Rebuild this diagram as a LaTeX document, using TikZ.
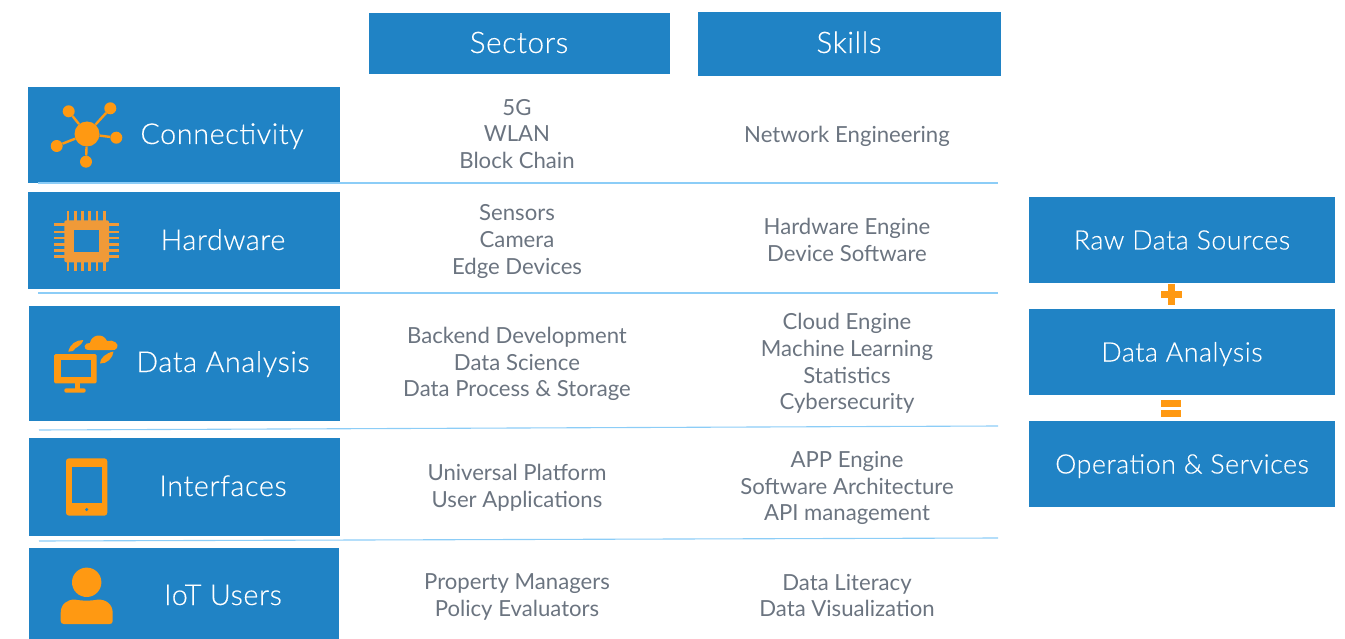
\documentclass[tikz,border=0pt]{standalone}
\usepackage{fontspec}
\setmainfont{Lato}
\newfontfamily\boxfont{Lato Light}[LetterSpace=2,FakeBold=0.25]
\usepackage{xcolor}
\definecolor{boxblue}{HTML}{2083C5}
\definecolor{iconorange}{HTML}{FF9912}
\definecolor{chiporange}{HTML}{F09A38}
\definecolor{rulesky}{HTML}{8CCDF7}
\definecolor{bodygrey}{HTML}{6B7480}
\tikzset{
    bluebox/.style = {fill=boxblue, inner sep=0pt},
    boxlabel/.style = {white, inner sep=0pt, text height=20pt, text depth=0pt, font=\boxfont\fontsize{28.8}{32}\selectfont},
    headlabel/.style = {boxlabel, font=\boxfont\fontsize{29.7}{32}\selectfont},
    sidelabel/.style = {boxlabel, font=\boxfont\fontsize{26.8}{32}\selectfont},
    cell/.style = {bodygrey, inner sep=0pt, align=center, font=\fontsize{22.15}{26.6}\selectfont},
    sepline/.style = {rulesky, line width=1.1pt},
    leaf/.style = {circle, fill=iconorange, inner sep=0pt, minimum size=12pt},
    hub/.style = {circle, fill=iconorange, inner sep=0pt, minimum size=25pt},
    spoke/.style = {iconorange, line width=2.4pt},
    pin/.style = {chiporange, line width=2.8pt}
}
\begin{document}
\begin{tikzpicture}[x=1pt,y=-1pt]
      \useasboundingbox (0,0) rectangle (1345,639);

      \node[bluebox, minimum width=301pt, minimum height=61pt] (sectors) at (519.5,43.5) {};
      \node[bluebox, minimum width=303pt, minimum height=64pt] (skills) at (849.5,44) {};
      \node[headlabel] (sectorsLabel) at (519,43) {Sectors};
      \node[headlabel] (skillsLabel) at (849,43) {Skills};

      \node[bluebox, minimum width=312pt, minimum height=96pt] (connectivity) at (184,135) {};
      \node[bluebox, minimum width=312pt, minimum height=97pt] (hardware) at (184,240.5) {};
      \node[bluebox, minimum width=311pt, minimum height=115pt] (analysis) at (184.5,363.5) {};
      \node[bluebox, minimum width=311pt, minimum height=98pt] (interfaces) at (184.5,487) {};
      \node[bluebox, minimum width=310pt, minimum height=91pt] (users) at (184,593.5) {};

      \node[boxlabel] (connectivityLabel) at (222,134) {Connectivity};
      \node[boxlabel] (hardwareLabel) at (223,240) {Hardware};
      \node[boxlabel] (analysisLabel) at (223,362) {Data Analysis};
      \node[boxlabel] (interfacesLabel) at (223,486) {Interfaces};
      \node[boxlabel] (usersLabel) at (223,595) {IoT Users};

      \node[cell] (sectorsA) at (517,134) {5G\\WLAN\\Block Chain};
      \node[cell] (sectorsB) at (517,241.5) {Sensors\\Camera\\Edge Devices};
      \node[cell] (sectorsC) at (517,364) {Backend Development\\Data Science\\Data Process \& Storage};
      \node[cell] (sectorsD) at (517,487.5) {Universal Platform\\User Applications};
      \node[cell] (sectorsE) at (517,597) {Property Managers\\Policy Evaluators};

      \node[cell] (skillsA) at (847,136) {Network Engineering};
      \node[cell] (skillsB) at (847,240) {Hardware Engine\\Device Software};
      \node[cell] (skillsC) at (847,363.5) {Cloud Engine\\Machine Learning\\Statistics\\Cybersecurity};
      \node[cell] (skillsD) at (847,488) {APP Engine\\Software Architecture\\API management};
      \node[cell] (skillsE) at (847,595.5) {Data Literacy\\Data Visualization};

      \coordinate (ruleAl) at (38,183);
      \coordinate (ruleAr) at (998,183);
      \coordinate (ruleBl) at (38,293);
      \coordinate (ruleBr) at (998,293);
      \coordinate (ruleCl) at (39,430);
      \coordinate (ruleCr) at (998,426);
      \coordinate (ruleDl) at (39,541);
      \coordinate (ruleDr) at (998,538);
      \path[sepline] (ruleAl) edge (ruleAr);
      \path[sepline] (ruleBl) edge (ruleBr);
      \path[sepline] (ruleCl) edge (ruleCr);
      \path[sepline] (ruleDl) edge (ruleDr);

      \node[bluebox, minimum width=306pt, minimum height=86pt] (raw) at (1182,240) {};
      \node[bluebox, minimum width=306pt, minimum height=86pt] (data) at (1182,352) {};
      \node[bluebox, minimum width=306pt, minimum height=86pt] (operation) at (1182,464) {};
      \node[sidelabel] (rawLabel) at (1182,239.5) {Raw Data Sources};
      \node[sidelabel] (dataLabel) at (1182,351.5) {Data Analysis};
      \node[sidelabel] (operationLabel) at (1182,463.5) {Operation \& Services};

      \fill[iconorange] (1160.5,291.5) rectangle (1181.5,298.5);
      \fill[iconorange] (1167.5,284.5) rectangle (1174.5,305.5);
      \fill[iconorange] (1161,400) rectangle (1181,407);
      \fill[iconorange] (1161,410) rectangle (1181,417);

      \node[hub] (netHub) at (87,134) {};
      \node[leaf] (netA) at (68.7,111.3) {};
      \node[leaf] (netB) at (110.3,108.3) {};
      \node[leaf] (netC) at (116.3,137.7) {};
      \node[leaf] (netD) at (86,161.7) {};
      \node[leaf] (netE) at (56.7,146) {};
      \path[spoke] (netHub) edge (netA);
      \path[spoke] (netHub) edge (netB);
      \path[spoke] (netHub) edge (netC);
      \path[spoke] (netHub) edge (netD);
      \path[spoke] (netHub) edge (netE);

      \foreach \px in {68,75.3,82.7,89.7,97,104.3}
        \draw[pin] (\px,211.3) -- (\px,271.3);
      \foreach \py in {224.7,232,238,244.7,250.3,256.3}
        \draw[pin] (54,\py) -- (119,\py);
      \fill[chiporange, rounded corners=2pt] (64.3,220.3) rectangle (109,262.3);
      \fill[boxblue] (74.3,230.3) rectangle (99,252.3);

      \fill[iconorange, rounded corners=1.5pt] (54,354) rectangle (96.7,383.3);
      \fill[boxblue] (60.7,360) rectangle (90.7,377.3);
      \fill[iconorange] (75,383) rectangle (80.3,389);
      \fill[iconorange, rounded corners=2pt] (64.3,388.3) rectangle (85.7,392.7);
      \fill[iconorange] (89,350) .. controls (82,350) and (84,342) .. (90,343)
        .. controls (91,335) and (103,332) .. (107,341)
        .. controls (113,339) and (120,344) .. (117,348)
        .. controls (116,350) and (114,350) .. (112,350) -- cycle;
      \fill[iconorange] (68.3,351.7) .. controls (70,344) and (76,340) .. (83.3,340)
        .. controls (81,347) and (75,347) .. (73,351) -- cycle;
      \fill[iconorange] (100,363.5) .. controls (100,358) and (106,353) .. (113.5,351.5)
        .. controls (113,358) and (107,364) .. (100,363.5) -- cycle;

      \fill[iconorange, rounded corners=3pt] (66,458.3) rectangle (107.3,515.7);
      \fill[boxblue] (71.7,466.7) rectangle (101.7,503.3);
      \fill[boxblue] (86.7,509.5) circle (1.7);

      \fill[iconorange] (86.7,582.3) circle (14.7);
      \fill[iconorange] (60.7,621) .. controls (60.7,623) and (62,624) .. (64,624)
        -- (109.5,624) .. controls (111.5,624) and (112.7,623) .. (112.7,621)
        -- (112.7,613) .. controls (112.7,604) and (106,599.5) .. (98,599.5)
        .. controls (92,601) and (81,601) .. (75,599.5)
        .. controls (67,599.5) and (60.7,604) .. (60.7,613) -- cycle;
\end{tikzpicture}
\end{document}
